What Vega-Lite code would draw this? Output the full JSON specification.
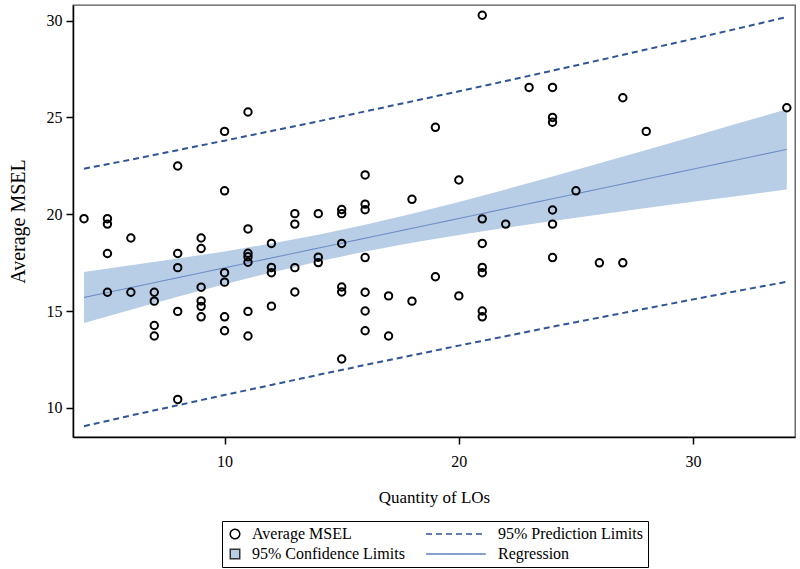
{
  "$schema": "https://vega.github.io/schema/vega-lite/v6.json",
  "width": 722,
  "height": 432,
  "autosize": {"type": "none"},
  "padding": {"left": 73, "top": 5, "right": 5, "bottom": 132},
  "background": "white",
  "config": {
    "font": "Liberation Serif",
    "view": {"stroke": "#555", "strokeWidth": 1.3},
    "axis": {"grid": false, "domainColor": "#000", "tickColor": "#000", "labelColor": "#000", "titleColor": "#000", "titleFontWeight": "normal", "domainWidth": 1.5, "tickWidth": 1.5, "labelFont": "Liberation Serif", "titleFont": "Liberation Serif"},
    "legend": {"orient": "none", "legendX": 149, "legendY": 516, "columns": 2, "direction": "horizontal", "strokeColor": "#000", "padding": 5, "labelFont": "Liberation Serif", "labelFontSize": 16, "labelColor": "#000", "symbolSize": 90, "labelOffset": 9, "rowPadding": 4, "columnPadding": 17, "symbolStrokeWidth": 1.5}
  },
  "datasets": {
    "pts": [
      {"x": 4, "y": 19.77},
      {"x": 5, "y": 19.77}, {"x": 5, "y": 19.49}, {"x": 5, "y": 17.97}, {"x": 5, "y": 15.97},
      {"x": 6, "y": 18.77}, {"x": 6, "y": 15.97},
      {"x": 7, "y": 15.97}, {"x": 7, "y": 15.51}, {"x": 7, "y": 14.25}, {"x": 7, "y": 13.71},
      {"x": 8, "y": 22.49}, {"x": 8, "y": 17.97}, {"x": 8, "y": 17.24}, {"x": 8, "y": 14.98}, {"x": 8, "y": 10.43},
      {"x": 9, "y": 18.77}, {"x": 9, "y": 18.23}, {"x": 9, "y": 16.23}, {"x": 9, "y": 15.52}, {"x": 9, "y": 15.24}, {"x": 9, "y": 14.70},
      {"x": 10, "y": 24.28}, {"x": 10, "y": 21.21}, {"x": 10, "y": 16.98}, {"x": 10, "y": 16.49}, {"x": 10, "y": 14.70}, {"x": 10, "y": 13.98},
      {"x": 11, "y": 25.28}, {"x": 11, "y": 19.24}, {"x": 11, "y": 17.98}, {"x": 11, "y": 17.80}, {"x": 11, "y": 17.52}, {"x": 11, "y": 14.98}, {"x": 11, "y": 13.71},
      {"x": 12, "y": 18.49}, {"x": 12, "y": 17.25}, {"x": 12, "y": 16.98}, {"x": 12, "y": 15.25},
      {"x": 13, "y": 20.03}, {"x": 13, "y": 19.49}, {"x": 13, "y": 17.24}, {"x": 13, "y": 15.98},
      {"x": 14, "y": 20.03}, {"x": 14, "y": 17.78}, {"x": 14, "y": 17.50},
      {"x": 15, "y": 20.24}, {"x": 15, "y": 20.03}, {"x": 15, "y": 18.49}, {"x": 15, "y": 16.24}, {"x": 15, "y": 15.98}, {"x": 15, "y": 12.52},
      {"x": 16, "y": 22.03}, {"x": 16, "y": 20.52}, {"x": 16, "y": 20.23}, {"x": 16, "y": 17.76}, {"x": 16, "y": 15.97}, {"x": 16, "y": 15.00}, {"x": 16, "y": 13.98},
      {"x": 17, "y": 15.78}, {"x": 17, "y": 13.71},
      {"x": 18, "y": 20.77}, {"x": 18, "y": 15.51},
      {"x": 19, "y": 24.49}, {"x": 19, "y": 16.77},
      {"x": 20, "y": 21.77}, {"x": 20, "y": 15.78},
      {"x": 21, "y": 30.28}, {"x": 21, "y": 19.76}, {"x": 21, "y": 18.49}, {"x": 21, "y": 17.25}, {"x": 21, "y": 16.98}, {"x": 21, "y": 15.00}, {"x": 21, "y": 14.70},
      {"x": 22, "y": 19.49},
      {"x": 23, "y": 26.55},
      {"x": 24, "y": 26.55}, {"x": 24, "y": 25.00}, {"x": 24, "y": 24.75}, {"x": 24, "y": 20.22}, {"x": 24, "y": 19.49}, {"x": 24, "y": 17.76},
      {"x": 25, "y": 21.21},
      {"x": 26, "y": 17.49},
      {"x": 27, "y": 26.02}, {"x": 27, "y": 17.49},
      {"x": 28, "y": 24.28},
      {"x": 34, "y": 25.50}
    ],
    "fit": [
      {"x": 4, "fit": 15.70, "clo": 14.38, "chi": 17.02, "plo": 9.05, "phi": 22.35},
      {"x": 6, "fit": 16.21, "clo": 15.06, "chi": 17.36, "plo": 9.60, "phi": 22.82},
      {"x": 8, "fit": 16.72, "clo": 15.73, "chi": 17.71, "plo": 10.13, "phi": 23.31},
      {"x": 10, "fit": 17.23, "clo": 16.38, "chi": 18.08, "plo": 10.66, "phi": 23.80},
      {"x": 12, "fit": 17.74, "clo": 16.99, "chi": 18.49, "plo": 11.18, "phi": 24.30},
      {"x": 14, "fit": 18.25, "clo": 17.56, "chi": 18.94, "plo": 11.70, "phi": 24.80},
      {"x": 16, "fit": 18.76, "clo": 18.07, "chi": 19.45, "plo": 12.21, "phi": 25.31},
      {"x": 18, "fit": 19.27, "clo": 18.52, "chi": 20.02, "plo": 12.71, "phi": 25.83},
      {"x": 20, "fit": 19.78, "clo": 18.93, "chi": 20.63, "plo": 13.21, "phi": 26.35},
      {"x": 22, "fit": 20.29, "clo": 19.30, "chi": 21.28, "plo": 13.70, "phi": 26.88},
      {"x": 24, "fit": 20.80, "clo": 19.65, "chi": 21.95, "plo": 14.19, "phi": 27.42},
      {"x": 26, "fit": 21.31, "clo": 19.99, "chi": 22.63, "plo": 14.66, "phi": 27.96},
      {"x": 28, "fit": 21.82, "clo": 20.32, "chi": 23.32, "plo": 15.13, "phi": 28.51},
      {"x": 30, "fit": 22.33, "clo": 20.64, "chi": 24.02, "plo": 15.60, "phi": 29.06},
      {"x": 32, "fit": 22.84, "clo": 20.96, "chi": 24.72, "plo": 16.06, "phi": 29.62},
      {"x": 34, "fit": 23.35, "clo": 21.28, "chi": 25.42, "plo": 16.51, "phi": 30.19}
    ]
  },
  "layer": [
    {
      "data": {"name": "fit"},
      "mark": {"type": "area", "opacity": 1},
      "encoding": {
        "x": {"field": "x", "type": "quantitative", "scale": {"domain": [3.53, 34.35], "nice": false, "zero": false},
          "axis": {"title": "Quantity of LOs", "values": [10, 20, 30], "tickSize": 7, "labelPadding": 9, "labelFontSize": 16, "titleFontSize": 17, "titlePadding": 20, "labelFlush": false}},
        "y": {"field": "clo", "type": "quantitative", "scale": {"domain": [8.49, 30.81], "nice": false, "zero": false},
          "axis": {"title": "Average MSEL", "values": [10, 15, 20, 25, 30], "tickSize": 7, "labelPadding": 4, "labelFontSize": 16, "titleFontSize": 20, "titlePadding": 18, "labelFlush": false}},
        "y2": {"field": "chi"},
        "fill": {
          "datum": "95% Confidence Limits", "type": "nominal",
          "scale": {"domain": ["Average MSEL", "95% Prediction Limits", "95% Confidence Limits", "Regression"], "range": ["transparent", "transparent", "#b8cde6", "transparent"]},
          "legend": {"title": null}
        }
      }
    },
    {
      "data": {"name": "fit"},
      "mark": {"type": "line", "strokeWidth": 1},
      "encoding": {
        "x": {"field": "x", "type": "quantitative"},
        "y": {"field": "fit", "type": "quantitative"},
        "stroke": {
          "datum": "Regression", "type": "nominal",
          "scale": {"domain": ["Average MSEL", "95% Prediction Limits", "95% Confidence Limits", "Regression"], "range": ["#000000", "#2f5597", "#333333", "#5b7fc0"]},
          "legend": {"title": null}
        },
        "strokeDash": {
          "datum": "Regression", "type": "nominal",
          "scale": {"domain": ["Average MSEL", "95% Prediction Limits", "95% Confidence Limits", "Regression"], "range": [[1, 0], [6, 4], [1, 0], [1, 0]]},
          "legend": {"title": null}
        }
      }
    },
    {
      "data": {"name": "fit"},
      "mark": {"type": "line", "strokeWidth": 2},
      "encoding": {
        "x": {"field": "x", "type": "quantitative"},
        "y": {"field": "plo", "type": "quantitative"},
        "stroke": {"datum": "95% Prediction Limits", "type": "nominal", "legend": {"title": null}},
        "strokeDash": {"datum": "95% Prediction Limits", "type": "nominal", "legend": {"title": null}}
      }
    },
    {
      "data": {"name": "fit"},
      "mark": {"type": "line", "strokeWidth": 2},
      "encoding": {
        "x": {"field": "x", "type": "quantitative"},
        "y": {"field": "phi", "type": "quantitative"},
        "stroke": {"datum": "95% Prediction Limits", "type": "nominal", "legend": {"title": null}},
        "strokeDash": {"datum": "95% Prediction Limits", "type": "nominal", "legend": {"title": null}}
      }
    },
    {
      "data": {"name": "pts"},
      "mark": {"type": "point", "filled": false, "size": 55, "strokeWidth": 2, "opacity": 1},
      "encoding": {
        "x": {"field": "x", "type": "quantitative"},
        "y": {"field": "y", "type": "quantitative"},
        "stroke": {"datum": "Average MSEL", "type": "nominal", "legend": {"title": null}},
        "shape": {
          "datum": "Average MSEL", "type": "nominal",
          "scale": {"domain": ["Average MSEL", "95% Prediction Limits", "95% Confidence Limits", "Regression"], "range": ["circle", "M-11.6,0H1", "square", "M-11.6,0H1"]},
          "legend": {"title": null}
        }
      }
    }
  ]
}
